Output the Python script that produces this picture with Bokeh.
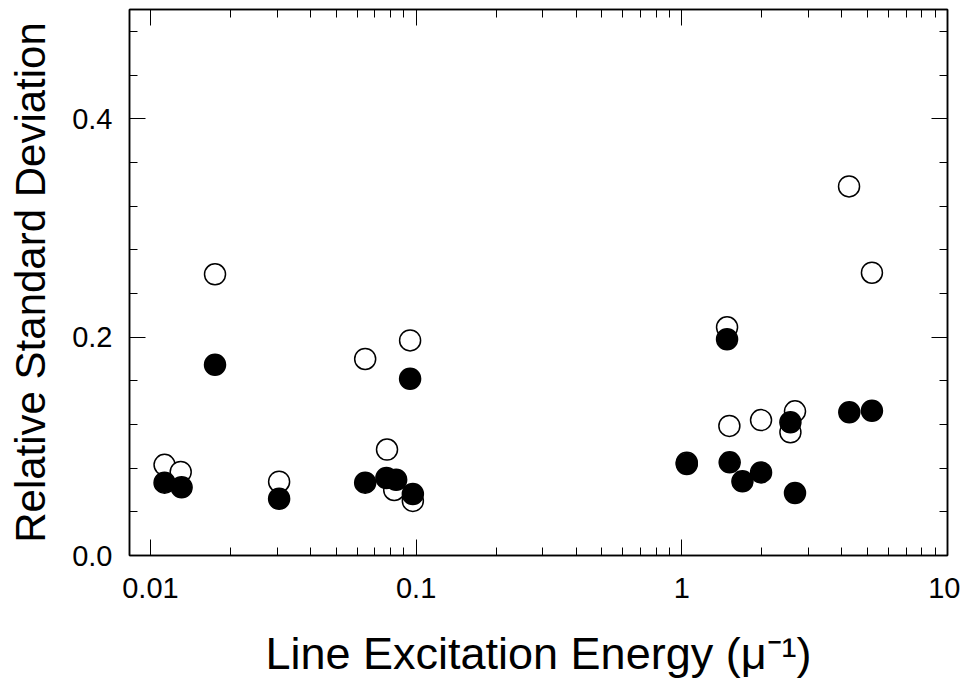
from bokeh.plotting import figure
from bokeh.models import (Range1d, FixedTicker, SingleIntervalTicker, LogAxis,
                          LinearAxis, CustomJSTickFormatter, PrintfTickFormatter)
from bokeh.embed import file_html
from bokeh.resources import INLINE

# Open circles
open_x = [0.0113, 0.0130, 0.0175, 0.0305, 0.0643, 0.0777, 0.0827, 0.0949, 0.0972,
          1.044, 1.48, 1.51, 1.987, 2.563, 2.667, 4.26, 5.195]
open_y = [0.083, 0.0765, 0.2575, 0.0676, 0.180, 0.097, 0.060, 0.197, 0.050,
          0.085, 0.209, 0.1187, 0.124, 0.1128, 0.132, 0.338, 0.259]
# Filled circles
filled_x = [0.0113, 0.0131, 0.0175, 0.0305, 0.0643, 0.0773, 0.0841, 0.0949, 0.0972,
            1.044, 1.48, 1.514, 1.691, 1.987, 2.563, 2.667, 4.27, 5.195]
filled_y = [0.0667, 0.0624, 0.1747, 0.052, 0.0667, 0.071, 0.0694, 0.1618, 0.0563,
            0.0838, 0.198, 0.0853, 0.0679, 0.0761, 0.122, 0.0572, 0.1312, 0.1325]

x_major = [0.01, 0.1, 1, 10]
x_labels = ["0.01", "0.1", "1", "10"]
x_minor = [m * d for d in (0.01, 0.1, 1) for m in range(2, 10)]
y_labels = ["0.0", "0.2", "0.4"]

FONT = "Liberation Sans"

p = figure(width=960, height=681, x_axis_type="log",
           x_range=Range1d(0.00834, 10), y_range=Range1d(0, 0.5),
           output_backend="svg", toolbar_location=None,
           min_border_left=129, min_border_right=13, min_border_top=9,
           min_border_bottom=126)
p.grid.visible = False
p.outline_line_color = "black"
p.outline_line_width = 1.5
p.background_fill_color = "white"
p.border_fill_color = "white"

xt = FixedTicker(ticks=x_major, minor_ticks=x_minor)
yt = SingleIntervalTicker(interval=0.2, num_minor_ticks=5)

def style(ax):
    ax.axis_line_color = "black"
    ax.axis_line_width = 1.5
    ax.major_tick_in = 16
    ax.major_tick_out = 0
    ax.minor_tick_in = 8
    ax.minor_tick_out = 0
    ax.major_tick_line_color = "black"
    ax.minor_tick_line_color = "black"
    ax.major_tick_line_width = 1
    ax.minor_tick_line_width = 1
    ax.major_label_text_font = FONT
    ax.major_label_text_color = "black"
    ax.axis_label_text_font = FONT
    ax.axis_label_text_font_style = "normal"
    ax.axis_label_text_color = "black"

xa = p.xaxis[0]
xa.ticker = xt
xa.formatter = CustomJSTickFormatter(
    args=dict(vals=x_major, labs=x_labels),
    code="const i = vals.indexOf(tick); return i >= 0 ? labs[i] : tick.toString();")
style(xa)
xa.major_label_text_font_size = "29px"
xa.major_label_standoff = 22
xa.axis_label = "Line Excitation Energy (\u03bc\u207b\u00b9)"
xa.axis_label_text_font_size = "45px"
xa.axis_label_standoff = 27

ya = p.yaxis[0]
ya.ticker = yt
ya.formatter = PrintfTickFormatter(format="%.1f")
style(ya)
ya.major_label_text_font_size = "29px"
ya.major_label_standoff = 17
ya.axis_label = "Relative Standard Deviation"
ya.axis_label_text_font_size = "42px"
ya.axis_label_standoff = 15

blank = CustomJSTickFormatter(code="return '';")

top = LogAxis(ticker=xt, formatter=blank)
style(top)
top.major_label_standoff = 0
p.add_layout(top, "above")

right = LinearAxis(ticker=yt, formatter=blank)
style(right)
right.major_label_standoff = 0
p.add_layout(right, "right")

p.scatter(open_x, open_y, size=21, marker="circle", fill_color="white",
          line_color="black", line_width=1.5)
p.scatter(filled_x, filled_y, size=21, marker="circle", fill_color="black",
          line_color="black", line_width=1.5)

open("out.html", "w").write(file_html(p, INLINE))
